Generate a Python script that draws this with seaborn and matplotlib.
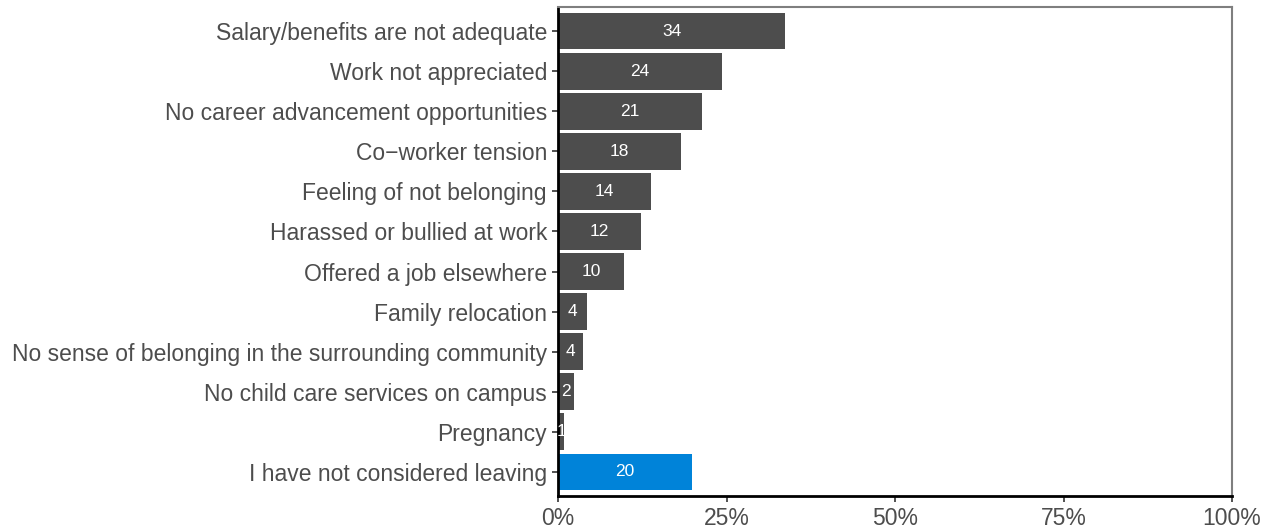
import matplotlib
matplotlib.use("Agg")
import matplotlib.pyplot as plt
import matplotlib.ticker as mticker
import seaborn as sns
import pandas as pd

sns.set_theme(style="white")
plt.rcParams["font.family"] = ["Liberation Sans", "DejaVu Sans"]

# Datos (porcentaje de respuestas)
razones = [
    "Salary/benefits are not adequate",
    "Work not appreciated",
    "No career advancement opportunities",
    "Co\u2212worker tension",
    "Feeling of not belonging",
    "Harassed or bullied at work",
    "Offered a job elsewhere",
    "Family relocation",
    "No sense of belonging in the surrounding community",
    "No child care services on campus",
    "Pregnancy",
    "I have not considered leaving",
]
porcentajes = [33.7, 24.4, 21.4, 18.2, 13.8, 12.3, 9.8, 4.3, 3.7, 2.4, 0.9, 19.9]
etiquetas = ["34", "24", "21", "18", "14", "12", "10", "4", "4", "2", "1", "20"]
grupo = ["leaving"] * 11 + ["staying"]

df = pd.DataFrame({"razon": razones, "pct": porcentajes, "grupo": grupo})

fig = plt.figure(figsize=(12.7, 5.31), dpi=100)
ax = fig.add_axes([558 / 1270, 1 - 496 / 531, (1232 - 558) / 1270, (496 - 7) / 531])

sns.barplot(data=df, x="pct", y="razon", hue="grupo",
            palette={"leaving": "#4D4D4D", "staying": "#0083D9"},
            dodge=False, width=0.92, legend=False, ax=ax, saturation=1,
            linewidth=0)

for cont in ax.containers:
    n = len(cont)
    labs = etiquetas[:n] if n == 11 else etiquetas[11:]
    ax.bar_label(cont, labels=labs, label_type="center", color="white", fontsize=12.5)

ax.set_xlim(0, 100)
ax.set_ylim(11.6, -0.6)
ax.set_xticks([0, 25, 50, 75, 100])
ax.xaxis.set_major_formatter(mticker.PercentFormatter(xmax=100, decimals=0))
ax.set_xlabel(""); ax.set_ylabel("")

for s in ["top", "right"]:
    ax.spines[s].set_color("#7F7F7F")
    ax.spines[s].set_linewidth(1.5)
for s in ["left", "bottom"]:
    ax.spines[s].set_color("black")
    ax.spines[s].set_linewidth(2)

ax.tick_params(axis="both", which="major", length=4, width=1.2, color="#333333",
               labelsize=16.5, labelcolor="#4D4D4D", left=True, bottom=True, pad=4)

plt.savefig("out.png", dpi=100)
plt.close()
